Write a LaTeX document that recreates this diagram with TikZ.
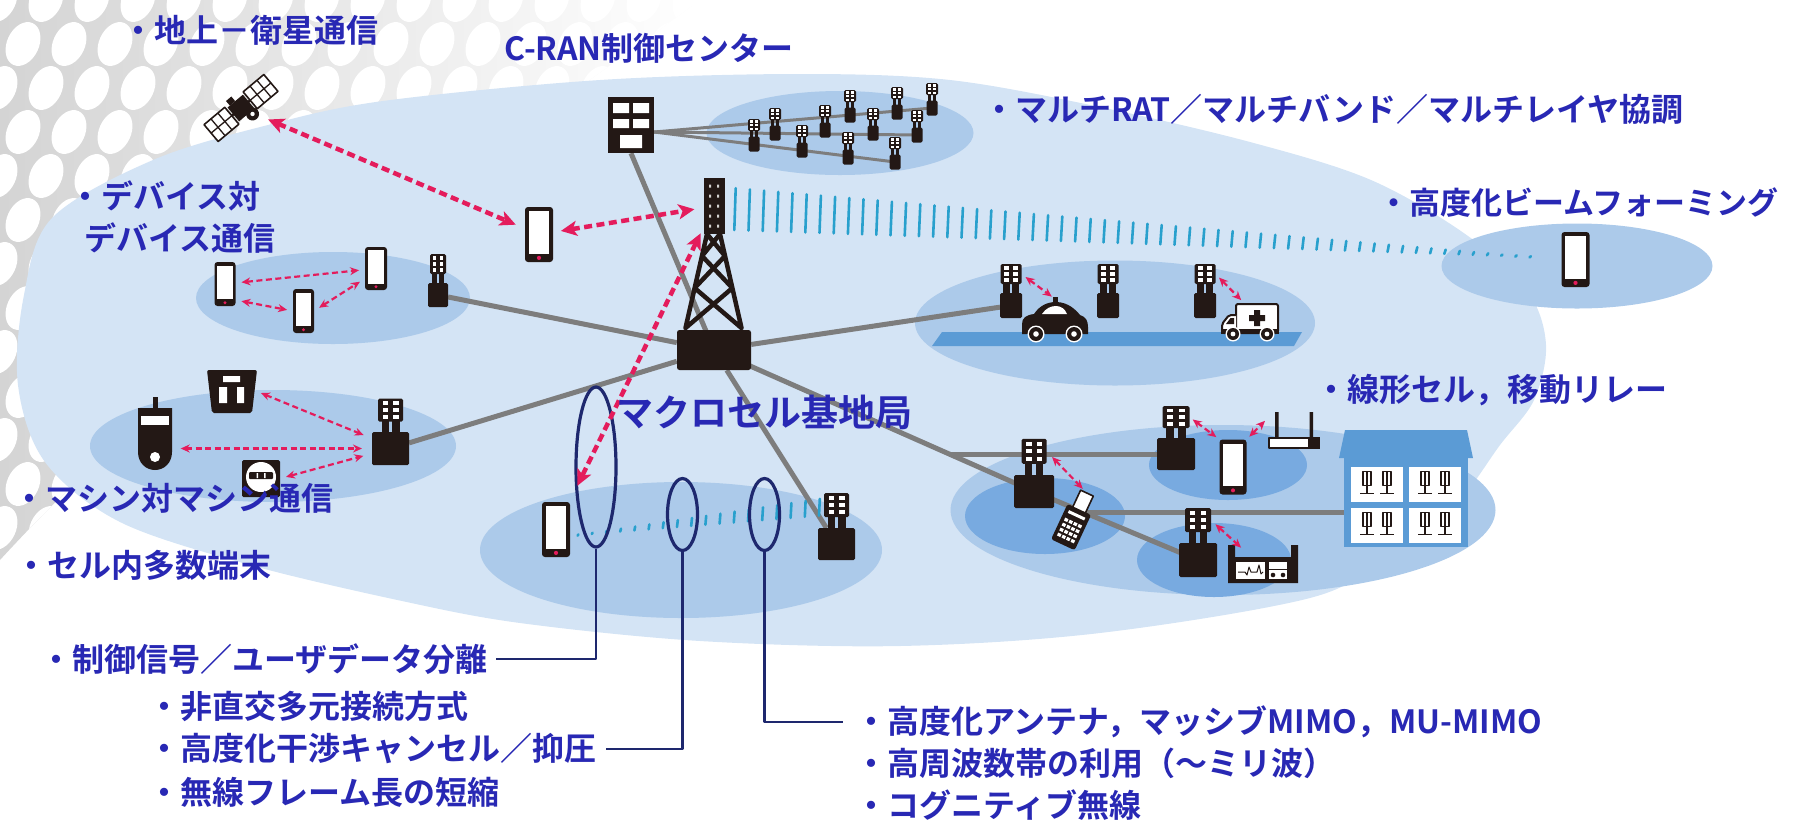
\documentclass[tikz,border=0pt]{standalone}
\usepackage{fontspec}
\newfontfamily\jpfont{Noto Sans CJK JP}[BoldFont={Noto Sans CJK JP Bold}]
\usetikzlibrary{arrows.meta,shapes.geometric,calc}
\pgfdeclarelayer{back}
\pgfdeclarelayer{mid}
\pgfsetlayers{back,mid,main}

\definecolor{sky}{RGB}{212,228,245}
\definecolor{cellblue}{RGB}{172,202,234}
\definecolor{cellmid}{RGB}{120,170,224}
\definecolor{roadblue}{RGB}{91,155,213}
\definecolor{iconblack}{RGB}{35,24,21}
\definecolor{cablegray}{RGB}{125,125,125}
\definecolor{linkred}{RGB}{228,28,92}
\definecolor{beamblue}{RGB}{40,160,205}
\definecolor{navyline}{RGB}{30,40,110}
\definecolor{labelblue}{RGB}{40,40,180}
\definecolor{halftone}{RGB}{212,212,212}

\tikzset{
  cell/.style={ellipse, fill=cellblue, inner sep=0pt, outer sep=0pt},
  subcell/.style={ellipse, fill=cellmid, inner sep=0pt, outer sep=0pt},
  backhaul/.style={draw=cablegray, line width=5pt},
  ratcable/.style={draw=cablegray, line width=3pt},
  link/.style={draw=linkred, line width=4.5pt, dash pattern=on 8pt off 4.5pt,
    {Stealth[length=16pt,width=15pt,inset=4pt]}-{Stealth[length=16pt,width=15pt,inset=4pt]}},
  minilink/.style={draw=linkred, line width=2.2pt, dash pattern=on 6pt off 3.5pt,
    {Stealth[length=9pt,width=8pt]}-{Stealth[length=9pt,width=8pt]}},
  probe/.style={ellipse, draw=navyline, line width=3.2pt, inner sep=0pt},
  leader/.style={draw=navyline, line width=2.2pt},
  lbl/.style={text=labelblue, inner sep=0pt, anchor=west,
    font=\jpfont\bfseries\fontsize{32}{38}\selectfont},
  % base station: antenna panel on two legs above a box
  pics/bs/.style n args={4}{code={
    \pgfmathsetmacro\bsAB{-#4/2-0.45*#2}
    \pgfmathsetmacro\bsAT{\bsAB-#2}
    \fill[iconblack] ({-0.36*#1},\bsAB-1) rectangle ({-0.07*#1},{-#4/2+1});
    \fill[iconblack] ({0.07*#1},\bsAB-1) rectangle ({0.36*#1},{-#4/2+1});
    \node[fill=iconblack, rounded corners=1.5pt, minimum width=#1pt, minimum height=#2pt,
      inner sep=0pt, outer sep=0pt] (-ant) at (0,{\bsAB-#2/2}) {};
    \foreach \cx in {-0.21,0.21}{\foreach \ry in {0.2,0.5,0.8}{
      \fill[white] ({(\cx-0.11)*#1},{\bsAT+(\ry-0.085)*#2}) rectangle ({(\cx+0.11)*#1},{\bsAT+(\ry+0.085)*#2});}}
    \node[fill=iconblack, rounded corners=1.5pt, minimum width=#3pt, minimum height=#4pt,
      inner sep=0pt, outer sep=0pt] (-box) at (0,0) {};
  }},
  pics/phone/.style 2 args={code={
    \node[fill=iconblack, rounded corners=3pt, minimum width=#1pt, minimum height=#2pt,
      inner sep=0pt, outer sep=0pt] (-n) at (0,0) {};
    \fill[white] ({-#1/2+0.14*#1},{-#2/2+0.08*#2}) rectangle ({#1/2-0.14*#1},{#2/2-0.15*#2});
    \fill[linkred] (0,{#2/2-0.075*#2}) circle [radius={0.075*#1}];
  }},
  pics/satellite/.style={code={
    \fill[iconblack] (-10,-9) rectangle (10,9);
    \draw[iconblack, line width=2.5pt] (-12,0) -- (12,0);
    \foreach \s in {-1,1}{
      \draw[iconblack, fill=white, line width=1.6pt] (\s*12,-11) rectangle (\s*39,11);
      \draw[iconblack, line width=1.3pt] (\s*21,-11) -- (\s*21,11) (\s*30,-11) -- (\s*30,11) (\s*12,0) -- (\s*39,0);
    }
    \fill[iconblack] (-7,-15) rectangle (0,-9);
    \fill[iconblack] (5,12) circle (6.5pt);
    \fill[white] (5,12) circle (2.2pt);
    \node[minimum size=52pt, inner sep=0pt] (-n) at (0,0) {};
  }},
  pics/tower/.style={code={
    \draw[iconblack, line width=4.5pt, line cap=round]
      (-7,-116) -- (-28.5,-22) (6,-116) -- (27.5,-22)
      (-7,-116) -- (11,-94) (6,-116) -- (-12,-94)
      (-12,-94) -- (18.4,-62) (11,-94) -- (-19.4,-62)
      (-19.4,-62) -- (27.5,-22) (18.4,-62) -- (-28.5,-22);
    \node[fill=iconblack, minimum width=21pt, minimum height=56pt, inner sep=0pt] (-head) at (0,-144) {};
    \foreach \ry in {-164,-154,-144,-134,-124}{
      \fill[white!80!iconblack] (-5,\ry-1.5) rectangle (-3,\ry+1.5) (3,\ry-1.5) rectangle (5,\ry+1.5);}
    \node[fill=iconblack, rounded corners=2.5pt, minimum width=74pt, minimum height=40pt, inner sep=0pt] (-base) at (0,0) {};
  }},
  pics/cranbox/.style={code={
    \node[fill=iconblack, minimum width=46pt, minimum height=56pt, inner sep=0pt] (-n) at (0,0) {};
    \fill[white] (-18,-22) rectangle (-2,-12) (2,-22) rectangle (18,-12)
      (-18,-6) rectangle (-2,3) (2,-6) rectangle (18,3) (-11,10) rectangle (11,23);
  }},
  pics/car/.style={code={
    \fill[iconblack] (-33,13) -- (-33,3) .. controls (-33,-3) and (-29,-6) .. (-21,-7)
      .. controls (-15,-16) and (-7,-19) .. (1,-19) .. controls (13,-19) and (21,-11) .. (25,-6)
      .. controls (31,-4) and (33,0) .. (33,6) -- (33,13) -- cycle;
    \fill[white] (-13,-7) .. controls (-9,-13) and (-4,-15) .. (1,-15) .. controls (6,-15) and (10,-12) .. (12,-7) -- cycle;
    \fill[iconblack] (-2,-24) rectangle (3,-18);
    \foreach \wx in {-19,19}{
      \fill[white] (\wx,13) circle (8.5pt); \fill[iconblack] (\wx,13) circle (7pt); \fill[white] (\wx,13) circle (2.8pt);}
    \coordinate (-top) at (0,-22);
    \node[minimum width=66pt, minimum height=44pt, inner sep=0pt] (-n) at (0,-1) {};
  }},
  pics/ambulance/.style={code={
    \draw[iconblack, fill=white, line width=2pt, rounded corners=2pt] (-14,-17) rectangle (28,12);
    \draw[iconblack, fill=white, line width=2pt, rounded corners=2pt] (-14,-6) -- (-21,-6) -- (-28,3) -- (-28,12) -- (-14,12);
    \fill[iconblack] (-19.5,-3) -- (-16,-3) -- (-16,3) -- (-24,3) -- cycle;
    \fill[iconblack] (4,-11) rectangle (10,5) (-1,-6) rectangle (15,0);
    \fill[iconblack] (-29,8) rectangle (29,12.5);
    \foreach \wx in {-17,17}{
      \fill[white] (\wx,13) circle (7.5pt); \fill[iconblack] (\wx,13) circle (6pt); \fill[white] (\wx,13) circle (2.4pt);}
    \coordinate (-top) at (-6,-18);
    \node[minimum width=58pt, minimum height=38pt, inner sep=0pt] (-n) at (0,0) {};
  }},
  pics/terminal/.style={code={
    \draw[iconblack, fill=white, line width=1.6pt] (-7,-33) rectangle (7,-12);
    \fill[iconblack, rounded corners=2.5pt] (-13,-15) rectangle (13,24);
    \fill[white] (-9,-10) rectangle (9,-7);
    \foreach \kx in {-7.5,-2.5,2.5,7.5}{\foreach \ky in {0,5.5,11,16.5}{
      \fill[white] (\kx-1.8,\ky-1.6) rectangle (\kx+1.8,\ky+1.6);}}
    \coordinate (-top) at (0,-33);
    \node[minimum width=26pt, minimum height=58pt, inner sep=0pt] (-n) at (0,-4) {};
  }},
  pics/router/.style={code={
    \fill[iconblack] (-19,-28) rectangle (-15.5,0) (15.5,-28) rectangle (19,0);
    \draw[iconblack, fill=white, line width=2pt] (-25,-2) rectangle (25,8);
    \fill[iconblack] (14,-3) rectangle (26,9);
    \node[minimum width=52pt, minimum height=36pt, inner sep=0pt] (-n) at (0,-10) {};
  }},
  pics/monitor/.style={code={
    \fill[iconblack] (-35,-20) rectangle (-28,18) (28,-20) rectangle (35,18) (-35,-8) rectangle (35,18);
    \fill[white] (-27,-3) rectangle (2,14);
    \draw[iconblack, line width=1pt] (-25,7) -- (-18,7) -- (-16,10) -- (-14,2) -- (-12,7) -- (-6,7) -- (-4,0) -- (-2,9) -- (0,7);
    \fill[white] (6,-3) rectangle (24,14);
    \draw[iconblack, line width=1pt] (6,4) -- (24,4);
    \fill[iconblack] (10,10) circle (2.3pt) (20,10) circle (2.3pt);
    \coordinate (-top) at (-16,-12);
    \node[minimum width=70pt, minimum height=38pt, inner sep=0pt] (-n) at (0,-1) {};
  }},
  pics/sensor/.style={code={
    \fill[iconblack] (-2.5,-43) rectangle (2.5,-30);
    \fill[iconblack] (-17,-32) -- (17,-32) -- (17,12) .. controls (17,23) and (9,30) .. (0,30)
      .. controls (-9,30) and (-17,23) .. (-17,12) -- cycle;
    \fill[white] (-14,-24) rectangle (14,-15);
    \fill[white] (0,17) circle (5pt);
    \node[minimum width=35pt, minimum height=73pt, inner sep=0pt] (-n) at (0,-6.5) {};
  }},
  pics/basket/.style={code={
    \fill[iconblack, rounded corners=2pt] (-25,-21) -- (25,-21) -- (20,22) -- (-20,22) -- cycle;
    \fill[white] (-9,-15) rectangle (8,-9) (-13,-4) rectangle (-5,12) (5,-4) rectangle (12,12);
    \node[minimum width=50pt, minimum height=43pt, inner sep=0pt] (-n) at (0,0.5) {};
  }},
  pics/meter/.style={code={
    \fill[iconblack, rounded corners=1.5pt] (-19,-18) rectangle (19,19);
    \fill[white] (0,-1) circle (15pt);
    \fill[iconblack, rounded corners=1pt] (-12,-6) rectangle (12,1);
    \fill[white] (-4.5,-5) rectangle (-3,0) (3,-5) rectangle (4.5,0);
    \node[minimum width=38pt, minimum height=37pt, inner sep=0pt] (-n) at (0,0.5) {};
  }},
  pics/house/.style={code={
    \fill[roadblue] (-61,-58) -- (61,-58) -- (67,-30) -- (-67,-30) -- cycle;
    \node[fill=roadblue, minimum width=124pt, minimum height=89pt, inner sep=0pt, outer sep=0pt] (-n) at (0,14.5) {};
    \foreach \wx in {-29,29}{\foreach \wy in {-3.5,37.5}{
      \fill[white] (\wx-26,\wy-17.5) rectangle (\wx+26,\wy+17.5);
      \foreach \ax in {-10,10}{
        \draw[iconblack, line width=1.1pt] (\wx+\ax-4,\wy-13) rectangle (\wx+\ax+4,\wy+1);
        \draw[iconblack, line width=1.1pt] (\wx+\ax,\wy-13) -- (\wx+\ax,\wy+1);
        \draw[iconblack, line width=1.3pt] (\wx+\ax,\wy+1) -- (\wx+\ax,\wy+9) (\wx+\ax-7,\wy+9) -- (\wx+\ax+7,\wy+9);
      }}}
  }},
}

\begin{document}
\begin{tikzpicture}[x=1pt, y=-1pt, line join=round]
\useasboundingbox (0,0) rectangle (1796,823);

\begin{pgfonlayer}{back}
  % halftone decoration in the upper left corner
  \begin{scope}
    \clip (0,0) -- (700,0) .. controls (500,150) and (220,320) .. (0,560) -- cycle;
    \shade[left color=halftone, right color=white] (0,0) rectangle (700,560);
    \foreach \j in {0,...,13}{\foreach \i in {0,...,15}{
      \pgfmathsetmacro\hx{\i*46+mod(\j,2)*23}
      \pgfmathsetmacro\hy{\j*44}
      \fill[white, rotate around={-25:(\hx,\hy)}] (\hx,\hy) ellipse [x radius=16, y radius=23];
    }}
  \end{scope}
  % macro cell coverage
  \fill[sky] plot[smooth cycle, tension=0.55] coordinates {
    (18,385) (24,295) (52,218) (153,160) (268,125) (383,101) (600,80) (800,74) (950,80)
    (1100,107) (1250,142) (1371,180) (1468,236) (1528,292) (1546,345) (1534,400) (1500,445)
    (1455,505) (1385,558) (1310,598) (1100,633) (900,646) (700,641) (520,623) (402,601)
    (250,565) (120,522) (45,462)};
  % small cells
  \node[cell, minimum width=274pt, minimum height=92pt] (cD2D) at (333,298) {};
  \node[cell, minimum width=366pt, minimum height=112pt] (cM2M) at (273,446) {};
  \node[cell, minimum width=267pt, minimum height=84pt] (cRAT) at (840,133) {};
  \node[cell, minimum width=271pt, minimum height=85pt] (cBeam) at (1577,266) {};
  \node[cell, minimum width=400pt, minimum height=125pt] (cCar) at (1115,323) {};
  \node[cell, minimum width=402pt, minimum height=136pt] (cEdge) at (681,550) {};
  \node[cell, minimum width=545pt, minimum height=170pt] (cHouse) at (1223,510) {};
  \node[subcell, minimum width=160pt, minimum height=76pt] (sL1) at (1045,516) {};
  \node[subcell, minimum width=158pt, minimum height=70pt] (sL2) at (1228,465) {};
  \node[subcell, minimum width=154pt, minimum height=74pt] (sL3) at (1214,560) {};
  \fill[roadblue] (932,346) -- (942,332) -- (1302,332) -- (1294,346) -- cycle;
\end{pgfonlayer}

% equipment
\pic[rotate=40] (sat) at (241,108) {satellite};
\pic (cran) at (631,125) {cranbox};
\pic (tw) at (714,350) {tower};
\pic (phC) at (539,234.5) {phone={28}{55}};
\pic (phB) at (1575.5,259.5) {phone={28}{55}};
\pic (phE) at (556,529.5) {phone={28}{55}};
\pic (phR) at (1233,467) {phone={27}{55}};
\pic (p1) at (225,284) {phone={21}{44}};
\pic (p2) at (303.5,311) {phone={21}{44}};
\pic (p3) at (376,268.5) {phone={22}{43}};
\pic (bsD) at (438,295) {bs={16}{20}{20}{24}};
\pic (bsM) at (390.5,448.5) {bs={25}{23}{37}{33}};
\pic (bsE) at (836.5,544) {bs={25}{24}{37}{32}};
\pic (bsC1) at (1011,305.5) {bs={21}{20}{22}{25}};
\pic (bsC2) at (1108,305.5) {bs={21}{20}{22}{25}};
\pic (bsC3) at (1205,305.5) {bs={21}{20}{22}{25}};
\pic (bsL1) at (1034,491.5) {bs={25}{25}{40}{33}};
\pic (bsL2) at (1176,454) {bs={27}{22}{38}{32}};
\pic (bsL3) at (1198,560) {bs={26}{24}{38}{34}};
\pic (r1) at (754,144) {bs={12}{12}{11}{15}};
\pic (r2) at (775,133) {bs={12}{12}{11}{15}};
\pic (r3) at (802,150) {bs={12}{12}{11}{15}};
\pic (r4) at (825,130) {bs={12}{12}{11}{15}};
\pic (r5) at (850,115) {bs={12}{12}{11}{15}};
\pic (r6) at (848,157) {bs={12}{12}{11}{15}};
\pic (r7) at (873,133) {bs={12}{12}{11}{15}};
\pic (r8) at (897,112) {bs={12}{12}{11}{15}};
\pic (r9) at (895,162) {bs={12}{12}{11}{15}};
\pic (r10) at (917,135) {bs={12}{12}{11}{15}};
\pic (r11) at (932,108) {bs={12}{12}{11}{15}};
\pic (car) at (1055,321) {car};
\pic (amb) at (1250,321) {ambulance};
\pic[rotate=-25] (term) at (1073,523) {terminal};
\pic (router) at (1294,440) {router};
\pic (mon) at (1263,565) {monitor};
\pic (house) at (1406,488) {house};
\pic (sensor) at (155,440) {sensor};
\pic (basket) at (232,391) {basket};
\pic (meter) at (261,478) {meter};

\begin{pgfonlayer}{mid}
  % wired links
  \draw[backhaul] (cran-n.south) -- (tw-base.center);
  \draw[backhaul] (bsD-box) -- (tw-base);
  \draw[backhaul] (bsM-box) -- (tw-base);
  \draw[backhaul] (tw-base) -- (bsE-box);
  \draw[backhaul] (tw-base) -- (bsC1-box);
  \draw[backhaul] (tw-base.center) -- (bsL1-box.center) -- (bsL3-box.center);
  \coordinate (brA) at ($(tw-base.center)!0.74!(bsL1-box.center)$);
  \draw[backhaul] (brA) -- (brA -| bsL2-box.center);
  \coordinate (brB) at ($(bsL1-box.center)!0.31!(bsL3-box.center)$);
  \draw[backhaul] (brB) -- (brB -| house-n.center);
  \draw[ratcable] ([yshift=-7pt]cran-n.east) -- (r11-box.center);
  \draw[ratcable] ([yshift=-7pt]cran-n.east) -- (r10-box.center);
  \draw[ratcable] ([yshift=-7pt]cran-n.east) -- (r9-box.center);
  % beam towards the far terminal
  \foreach \i in {0,...,56}{
    \pgfmathsetmacro\bmx{735+14.2*\i}
    \pgfmathsetmacro\bmh{max(1.3,42-0.053*(\bmx-733))}
    \pgfmathsetmacro\bmy{209+0.06*(\bmx-733)}
    \draw[beamblue, line width=2.6pt, line cap=round] (\bmx+0.7,\bmy-\bmh/2) -- (\bmx-0.7,\bmy+\bmh/2);
  }
  % beam at the cell edge
  \foreach \i in {0,...,17}{
    \pgfmathsetmacro\bmx{578+14.2*\i}
    \pgfmathsetmacro\bmh{max(1.3,(\bmx-578)*0.07)}
    \pgfmathsetmacro\bmy{535-(\bmx-578)*0.115}
    \draw[beamblue, line width=2.6pt, line cap=round] (\bmx+0.4,\bmy-\bmh/2) -- (\bmx-0.4,\bmy+\bmh/2);
  }
\end{pgfonlayer}

% radio links
\node[probe, minimum width=40pt, minimum height=160pt] (lpA) at (596,467) {};
\node[probe, minimum width=30pt, minimum height=72pt] (lpB) at (682.5,514.5) {};
\node[probe, minimum width=30pt, minimum height=72pt] (lpC) at (764.5,514.5) {};

\draw[link, shorten <=1pt, shorten >=10pt] (sat-n) -- (phC-n);
\draw[link, shorten <=8pt, shorten >=9pt] (phC-n) -- (tw-head);
\draw[link, shorten <=6pt, shorten >=18pt] (tw-head) -- (phE-n);

\draw[minilink, shorten <=6pt, shorten >=6pt] (p1-n) -- (p3-n);
\draw[minilink, shorten <=6pt, shorten >=6pt] ([yshift=-16pt]p1-n.east) -- (p2-n.west);
\draw[minilink, shorten <=6pt, shorten >=6pt] (p2-n.east) -- ([yshift=-10pt]p3-n.west);
\draw[minilink, shorten <=8pt, shorten >=10pt] (sensor-n.east |- bsM-box.west) -- (bsM-box.west);
\draw[minilink, shorten <=4pt, shorten >=9pt] (basket-n.east) -- ([yshift=10pt]bsM-box.west);
\draw[minilink, shorten <=6pt, shorten >=9pt] (meter-n.east) -- ([yshift=-5pt]bsM-box.west);
\draw[minilink, shorten <=5pt, shorten >=4pt] (bsC1-ant.east) -- (car-top);
\draw[minilink, shorten <=5pt, shorten >=4pt] (bsC3-ant.east) -- (amb-top);
\draw[minilink, shorten <=4pt, shorten >=4pt] (bsL2-ant.east) -- (phR-n.north west);
\draw[minilink, shorten <=4pt, shorten >=4pt] (phR-n.north east) -- ([yshift=12pt]router-n.west);
\draw[minilink, shorten <=8pt, shorten >=6pt] (bsL1-ant.east) -- (term-top);
\draw[minilink, shorten <=6pt, shorten >=8pt] (bsL3-ant.east) -- (mon-top);

% labels
\node[lbl] (tSat) at (122,30) {・地上－衛星通信};
\node[lbl] (tCran) at (504,48) {C-RAN制御センター};
\node[lbl] (tRat) at (983,109) {・マルチRAT／マルチバンド／マルチレイヤ協調};
\node[lbl] (tD2Da) at (69,196) {・デバイス対};
\node[lbl] (tD2Db) at (84,238) {デバイス通信};
\node[lbl, font=\jpfont\bfseries\fontsize{31}{37}\selectfont] (tBeam) at (1378,203) {・高度化ビームフォーミング};
\node[lbl, font=\jpfont\bfseries\fontsize{37}{44}\selectfont] (tMacro) at (616,412) {マクロセル基地局};
\node[lbl] (tLin) at (1315,390) {・線形セル，移動リレー};
\node[lbl] (tM2M) at (13,498) {・マシン対マシン通信};
\node[lbl] (tMany) at (15,565) {・セル内多数端末};
\node[lbl] (tSep) at (40,659) {・制御信号／ユーザデータ分離};
\node[lbl] (tNoma) at (148,706) {・非直交多元接続方式};
\node[lbl] (tIc) at (148,749) {・高度化干渉キャンセル／抑圧};
\node[lbl] (tTti) at (148,792) {・無線フレーム長の短縮};
\node[lbl] (tMimo) at (855,722) {・高度化アンテナ，マッシブMIMO，MU-MIMO};
\node[lbl] (tMmw) at (855,763) {・高周波数帯の利用（～ミリ波）};
\node[lbl] (tCog) at (855,805) {・コグニティブ無線};

\draw[leader] (lpA.south) |- ([xshift=8pt]tSep.east);
\draw[leader] (lpB.south) |- ([xshift=10pt]tIc.east);
\draw[leader] (lpC.south) |- ([xshift=-12pt]tMimo.west);
\end{tikzpicture}
\end{document}
